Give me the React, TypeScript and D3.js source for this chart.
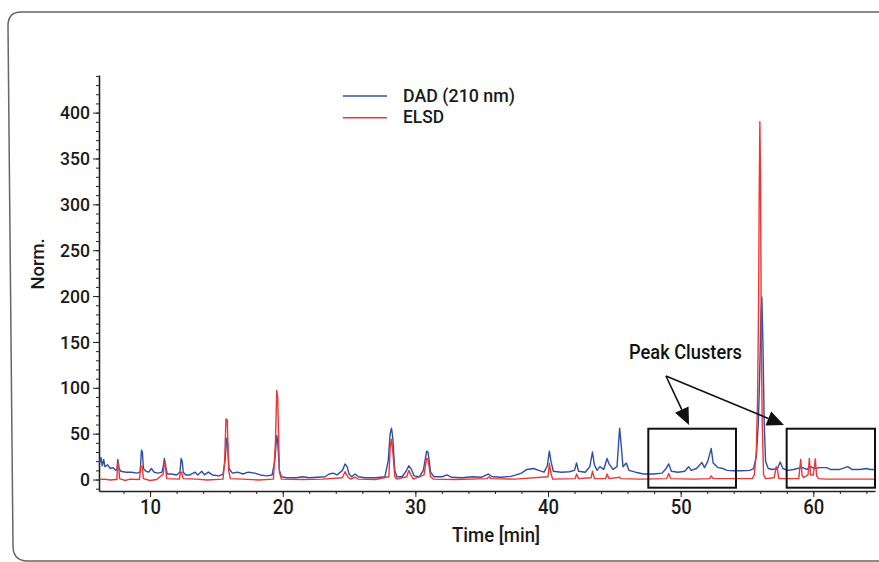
import React, { useEffect, useRef } from 'react';
import * as d3 from 'd3';

// chromatogram traces, [time (min), response (norm.)]
const dadTrace: [number, number][] = [
  [6.2, 18], [6.3, 24], [6.4, 15], [6.5, 22], [6.6, 14], [6.8, 16], [7.0, 12], [7.2, 13], [7.4, 10], [7.5, 11],
  [7.57, 22], [7.65, 12], [7.8, 9], [8.2, 8], [8.6, 8], [9.0, 7], [9.25, 8], [9.35, 32], [9.42, 30], [9.5, 12],
  [9.7, 9], [9.9, 8], [10.1, 12], [10.3, 8], [10.6, 7], [10.9, 8], [11.0, 15], [11.08, 23], [11.18, 14], [11.3, 6],
  [11.6, 6], [12.0, 5], [12.25, 8], [12.34, 23], [12.42, 20], [12.5, 8], [12.7, 5], [13.0, 5], [13.4, 8], [13.6, 5],
  [13.9, 9], [14.1, 5], [14.4, 8], [14.7, 5], [15.2, 4], [15.5, 6], [15.65, 20], [15.78, 45], [15.85, 38], [15.95, 12],
  [16.2, 7], [16.6, 8], [17.0, 6], [17.4, 8], [17.9, 7], [18.3, 5], [18.8, 4], [19.2, 5], [19.4, 20], [19.55, 48],
  [19.62, 42], [19.75, 10], [19.9, 3], [20.3, 2], [21.0, 2], [21.5, 3], [22.0, 2], [22.6, 2.5], [23.2, 3], [23.5, 6],
  [23.8, 7], [24.1, 5], [24.5, 10], [24.7, 17], [24.85, 14], [25.0, 6], [25.2, 3], [25.45, 6], [25.7, 3], [26.2, 2],
  [27.0, 2], [27.7, 3], [27.95, 20], [28.1, 50], [28.2, 56], [28.3, 45], [28.45, 10], [28.6, 3], [29.0, 3], [29.3, 9],
  [29.5, 15], [29.7, 11], [29.9, 4], [30.3, 3], [30.6, 10], [30.85, 31], [30.95, 30], [31.15, 8], [31.4, 3], [32.0, 3],
  [32.4, 5], [32.7, 2.5], [33.5, 2], [34.3, 3], [35.0, 2.5], [35.5, 6], [35.8, 3], [36.5, 2.5], [37.2, 3.5], [37.6, 5],
  [38.0, 7], [38.4, 11], [38.9, 12], [39.3, 10], [39.7, 8], [39.95, 15], [40.1, 31], [40.22, 20], [40.4, 9], [41.0, 8],
  [41.6, 8.5], [42.0, 10], [42.15, 18], [42.3, 9], [42.8, 8], [43.15, 14], [43.35, 30], [43.5, 16], [43.7, 10], [43.9, 14],
  [44.2, 11], [44.45, 23], [44.6, 17], [44.9, 11], [45.2, 14], [45.4, 56], [45.5, 40], [45.65, 14], [45.9, 18], [46.1, 10],
  [46.6, 8], [47.2, 6], [48.0, 6], [48.6, 7], [48.9, 12], [49.1, 17], [49.3, 9], [49.8, 8], [50.3, 9], [50.6, 14],
  [50.8, 10], [51.2, 12], [51.6, 18.5], [51.8, 13], [52.05, 20], [52.3, 34], [52.45, 18], [52.8, 13], [53.2, 12], [53.5, 10],
  [54.0, 9.5], [54.6, 9.5], [55.2, 10], [55.5, 12], [55.7, 25], [55.85, 60], [55.95, 110], [56.05, 180], [56.12, 199], [56.2, 150],
  [56.3, 60], [56.4, 20], [56.6, 12], [56.9, 11], [57.3, 12], [57.5, 19], [57.7, 12], [58.1, 10], [58.5, 11], [58.8, 12],
  [59.2, 13], [59.5, 11], [59.8, 14], [60.1, 12], [60.5, 13], [61.0, 13], [61.3, 11], [62.0, 11], [62.6, 14], [62.9, 11],
  [63.5, 11], [64.0, 12], [64.3, 11], [64.6, 11],
];

const elsdTrace: [number, number][] = [
  [6.2, 0], [6.5, 0.5], [7.0, -0.5], [7.4, 0], [7.5, 0], [7.55, 17], [7.62, 18], [7.7, 1], [8.1, -1], [8.5, 0.5],
  [9.2, 0], [9.3, 15], [9.4, 14], [9.5, 1], [10.0, -1], [10.5, 0], [11.0, 6], [11.08, 20], [11.15, 16], [11.25, 1],
  [12.2, 0.5], [12.3, 8], [12.38, 8], [12.5, 1], [13.5, 0.5], [14.3, -0.5], [15.5, 0.5], [15.62, 20], [15.72, 66], [15.82, 65],
  [15.92, 10], [16.05, 1], [17.0, 0.5], [18.2, -0.5], [19.3, 0.5], [19.45, 40], [19.55, 97], [19.62, 90], [19.75, 8], [19.9, 0.5],
  [21.5, 0], [23.0, 0.5], [24.5, 2], [24.7, 8.5], [24.9, 3], [25.1, 0.5], [25.45, 2.5], [25.7, 0.5], [27.0, 0], [28.0, 3],
  [28.1, 35], [28.2, 44], [28.3, 30], [28.45, 3], [28.6, 0.5], [29.35, 3], [29.5, 10], [29.65, 5], [29.85, 0.5], [30.65, 5],
  [30.85, 23], [30.95, 22], [31.15, 3], [31.35, 0.5], [33.0, 0], [35.4, 1], [35.55, 3], [35.7, 1], [37.5, 0.5], [40.0, 3],
  [40.1, 17.5], [40.2, 8], [40.35, 0.5], [42.05, 1], [42.15, 6], [42.3, 1], [43.25, 2], [43.35, 9], [43.5, 1], [44.35, 1],
  [44.45, 6], [44.6, 1], [45.4, 2.5], [45.5, 1], [47.0, 0.5], [48.95, 1], [49.1, 6.5], [49.25, 1], [51.0, 0.5], [52.2, 1],
  [52.3, 4], [52.45, 1], [55.4, 1], [55.55, 5], [55.7, 30], [55.8, 90], [55.88, 200], [55.92, 310], [55.97, 390], [56.02, 330],
  [56.08, 150], [56.15, 60], [56.25, 5], [56.4, 1], [57.05, 2], [57.2, 14], [57.3, 10], [57.4, 1], [58.9, 1], [59.05, 22],
  [59.15, 5], [59.25, 2], [59.6, 5], [59.7, 23], [59.8, 5], [60.0, 5], [60.15, 22.5], [60.25, 4], [60.4, 1], [61.0, 0.5],
  [62.5, 0.5], [64.6, 0.5],
];

const seriesNames = ['DAD (210 nm)', 'ELSD'];
const seriesColors = ['#2f4ea6', '#ee3535'];
const xMajorTicks = [10, 20, 30, 40, 50, 60];
const yMajorTicks = [0, 50, 100, 150, 200, 250, 300, 350, 400];
const clusterBoxes: [number, number][] = [[47.56, 54.17], [57.99, 64.65]];
const clusterBoxValues: [number, number] = [-8.9, 55.4];
const annotationText = 'Peak Clusters';
const arrowStart: [number, number] = [48.89, 112.9];
const arrowTips: [number, number][] = [[50.63, 59.4], [57.79, 59.4]];

const FONT = "Roboto, 'Liberation Sans', sans-serif";
const W = 879, H = 562;

export default function App() {
  const ref = useRef<SVGSVGElement>(null);

  useEffect(() => {
    const svg = d3.select(ref.current);
    svg.selectAll('*').remove();

    const x = d3.scaleLinear().domain([6.15, 64.65]).range([99, 875]);
    const y = d3.scaleLinear().domain([-12.5, 441]).range([491, 75]);

    // condensed look: squeeze each label to the width the original shows
    const squeeze = (sel: any, perChar: number) =>
      sel.each(function (this: SVGTextElement) {
        const n = (this.textContent || '').length;
        d3.select(this).attr('textLength', n * perChar).attr('lengthAdjust', 'spacingAndGlyphs');
      });

    // rounded frame (slightly skewed like the scan)
    svg.append('path')
      .attr('d', `M ${W + 2} 12 L 21 12 Q 8 12 8 26 L 13 546 Q 13 560 26 561 L ${W + 2} 561`)
      .attr('fill', 'none').attr('stroke', '#666').attr('stroke-width', 1.5);

    // y axis: minor then major
    svg.append('g').attr('transform', 'translate(99,0)')
      .call(d3.axisLeft(y).tickValues(d3.range(-10, 441, 10)).tickSize(3).tickSizeOuter(0).tickFormat(() => ''))
      .call(g => g.selectAll('line').attr('stroke', '#222'))
      .call(g => g.select('.domain').attr('stroke', '#222').attr('stroke-width', 1.6));
    svg.append('g').attr('transform', 'translate(99,0)')
      .call(d3.axisLeft(y).tickValues(yMajorTicks).tickSize(6).tickPadding(3).tickSizeOuter(0))
      .call(g => g.select('.domain').remove())
      .call(g => g.selectAll('line').attr('stroke', '#222'))
      .call(g => squeeze(g.selectAll('text').attr('font-family', FONT).attr('font-weight', 500)
        .attr('font-size', 19).attr('fill', '#1a1a1a'), 10));

    // x axis
    svg.append('g').attr('transform', 'translate(0,491)')
      .call(d3.axisBottom(x).tickValues(d3.range(8, 65, 2)).tickSize(3).tickSizeOuter(0).tickFormat(() => ''))
      .call(g => g.selectAll('line').attr('stroke', '#222'))
      .call(g => g.select('.domain').attr('stroke', '#222').attr('stroke-width', 1.6));
    svg.append('g').attr('transform', 'translate(0,491)')
      .call(d3.axisBottom(x).tickValues(xMajorTicks).tickSize(6).tickPadding(3).tickSizeOuter(0))
      .call(g => g.select('.domain').remove())
      .call(g => g.selectAll('line').attr('stroke', '#222'))
      .call(g => squeeze(g.selectAll('text').attr('font-family', FONT).attr('font-weight', 500)
        .attr('font-size', 20).attr('fill', '#1a1a1a'), 10.5));

    svg.append('text').attr('x', 496).attr('y', 542).attr('text-anchor', 'middle')
      .attr('font-family', FONT).attr('font-weight', 500).attr('font-size', 20).attr('fill', '#1a1a1a')
      .attr('textLength', 88).attr('lengthAdjust', 'spacingAndGlyphs').text('Time [min]');
    svg.append('text').attr('transform', 'translate(44,264) rotate(-90)').attr('text-anchor', 'middle')
      .attr('font-family', FONT).attr('font-weight', 500).attr('font-size', 19).attr('fill', '#1a1a1a')
      .attr('textLength', 51).attr('lengthAdjust', 'spacingAndGlyphs').text('Norm.');

    // traces
    const line = d3.line<[number, number]>().x(d => x(d[0])).y(d => y(d[1]));
    [dadTrace, elsdTrace].forEach((trace, i) => {
      svg.append('path').datum(trace)
        .attr('d', line)
        .attr('fill', 'none')
        .attr('stroke', seriesColors[i])
        .attr('stroke-width', 1.4)
        .attr('stroke-linejoin', 'round');
    });

    // cluster boxes
    clusterBoxes.forEach(([t0, t1]) => {
      svg.append('rect')
        .attr('x', x(t0)).attr('y', y(clusterBoxValues[1]))
        .attr('width', x(t1) - x(t0)).attr('height', y(clusterBoxValues[0]) - y(clusterBoxValues[1]))
        .attr('fill', 'none').attr('stroke', '#111').attr('stroke-width', 2);
    });

    // annotation + arrows
    svg.append('text').attr('x', 629).attr('y', 359).attr('font-family', FONT).attr('font-weight', 500)
      .attr('font-size', 20).attr('fill', '#111')
      .attr('textLength', 113).attr('lengthAdjust', 'spacingAndGlyphs').text(annotationText);
    const sx = x(arrowStart[0]), sy = y(arrowStart[1]);
    arrowTips.forEach(tip => {
      const tx = x(tip[0]), ty = y(tip[1]);
      const dx = tx - sx, dy = ty - sy, len = Math.hypot(dx, dy);
      const ux = dx / len, uy = dy / len;
      const hl = 17, hw = 7.5;
      const bx = tx - ux * hl, by = ty - uy * hl;
      svg.append('line').attr('x1', sx).attr('y1', sy).attr('x2', bx).attr('y2', by)
        .attr('stroke', '#111').attr('stroke-width', 1.6);
      svg.append('polygon')
        .attr('points', `${tx},${ty} ${bx - uy * hw},${by + ux * hw} ${bx + uy * hw},${by - ux * hw}`)
        .attr('fill', '#111');
    });

    // legend
    const legendWidths = [112, 41];
    seriesNames.forEach((name, i) => {
      const ly = 96 + i * 21.7;
      svg.append('line').attr('x1', 343).attr('x2', 387).attr('y1', ly).attr('y2', ly)
        .attr('stroke', seriesColors[i]).attr('stroke-width', 1.6);
      svg.append('text').attr('x', 403).attr('y', ly + 5.5).attr('font-family', FONT).attr('font-weight', 500)
        .attr('font-size', 18).attr('fill', '#1a1a1a')
        .attr('textLength', legendWidths[i]).attr('lengthAdjust', 'spacingAndGlyphs').text(name);
    });
  }, []);

  return (
    <svg ref={ref} width={W} height={H} style={{ position: 'absolute', left: 0, top: 0, background: '#fff' }} />
  );
}
